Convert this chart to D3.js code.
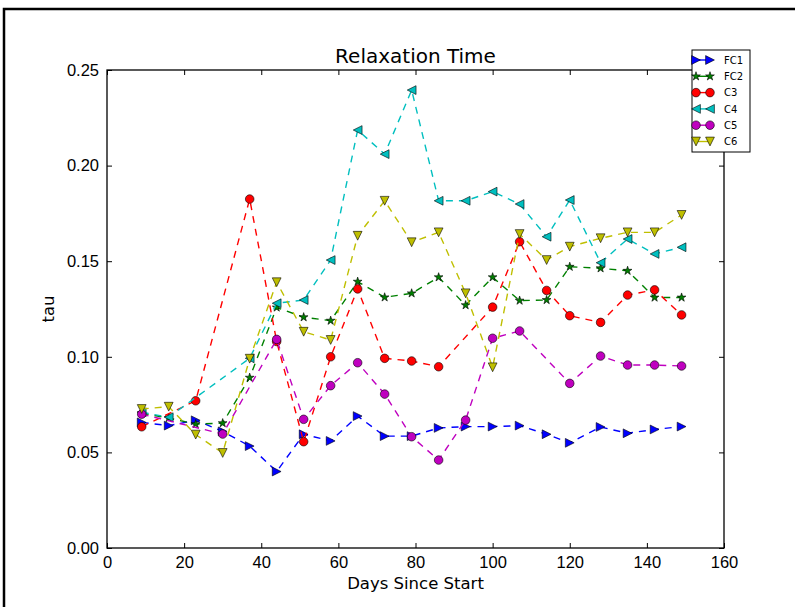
<!DOCTYPE html>
<html>
<head>
<meta charset="utf-8">
<script src="https://cdn.jsdelivr.net/npm/d3@7"></script>
<style>
  body { margin: 0; background: #fff; }
  svg { display: block; font-family: "DejaVu Sans", sans-serif; }
</style>
</head>
<body>
<script>
// days of each measurement
const days = [9, 16, 23, 30, 37, 44, 51, 58, 65, 72, 79, 86, 93, 100, 107, 114, 120, 128, 135, 142, 149];

// tau values per sample, null = no measurement that day
const fc1 = [0.0657, 0.064, 0.0668, 0.061, 0.0533, 0.040, 0.0595, 0.056, 0.069, 0.0585, 0.0585, 0.0628, 0.0635, 0.0635, 0.064, 0.0595, 0.055, 0.0633, 0.060, 0.062, 0.0635];
const fc2 = [0.0705, 0.068, 0.0648, 0.0653, 0.0891, 0.1258, 0.1207, 0.1189, 0.1393, 0.1311, 0.1332, 0.1416, 0.127, 0.1416, 0.1294, 0.1297, 0.1471, 0.1463, 0.145, 0.131, 0.131];
const c3 = [0.0634, null, 0.077, null, 0.1825, 0.108, 0.0556, 0.100, 0.1355, 0.0992, 0.0978, 0.0948, null, 0.126, 0.1602, 0.1347, 0.1215, 0.118, 0.1323, 0.135, 0.1219];
const c4 = [0.071, 0.0684, null, null, 0.0992, 0.128, 0.1297, 0.1506, 0.2186, 0.206, 0.2395, 0.1816, 0.1816, 0.1864, 0.1799, 0.1628, 0.182, 0.1492, 0.1616, 0.1538, 0.1573];
const c5 = [0.070, null, null, 0.0596, null, 0.1091, 0.0673, 0.0849, 0.0969, 0.0805, 0.0582, 0.046, 0.0669, 0.1097, 0.1135, null, 0.0861, 0.1004, 0.0957, 0.0957, 0.0952];
const c6 = [0.0727, 0.0739, 0.0593, 0.0497, 0.099, 0.139, 0.1131, 0.1088, 0.1633, 0.1816, 0.1599, 0.1651, 0.1332, 0.0945, 0.1642, 0.1506, 0.1576, 0.162, 0.1651, 0.1651, 0.1742];

const seriesNames = ["FC1", "FC2", "C3", "C4", "C5", "C6"];
const seriesValues = [fc1, fc2, c3, c4, c5, c6];
const seriesColors = ["#0000ff", "#008000", "#ff0000", "#00bfbf", "#bf00bf", "#bfbf00"];
const seriesMarkers = ["right", "star", "circle", "left", "circle", "down"];

const xTicks = [0, 20, 40, 60, 80, 100, 120, 140, 160];
const yTicks = [0, 0.05, 0.1, 0.15, 0.2, 0.25];

const width = 795;
const height = 607;
const margin = { top: 70, right: 71, bottom: 59, left: 107 };
const plotW = width - margin.left - margin.right;
const plotH = height - margin.top - margin.bottom;

const svg = d3.select("body").append("svg").attr("width", width).attr("height", height);

// outer frame of the screenshot
svg.append("rect")
  .attr("x", 4).attr("y", 9)
  .attr("width", 820).attr("height", 640)
  .attr("fill", "none")
  .attr("stroke", "#000")
  .attr("stroke-width", 2.5);

const x = d3.scaleLinear().domain([0, 160]).range([0, plotW]);
const y = d3.scaleLinear().domain([0, 0.25]).range([plotH, 0]);

const g = svg.append("g").attr("transform", `translate(${margin.left},${margin.top})`);

// marker shapes (matplotlib-like)
function markerPath(kind, r) {
  if (kind === "right") return `M${r},0L${-r},${r}L${-r},${-r}Z`;
  if (kind === "left") return `M${-r},0L${r},${-r}L${r},${r}Z`;
  if (kind === "down") return `M0,${r}L${-r},${-r}L${r},${-r}Z`;
  if (kind === "star") {
    const pts = [];
    for (let i = 0; i < 10; i++) {
      const rad = i % 2 === 0 ? r : r * 0.381966;
      const a = (i * Math.PI) / 5 - Math.PI / 2;
      pts.push([rad * Math.cos(a), rad * Math.sin(a)]);
    }
    return "M" + pts.map((p) => p.join(",")).join("L") + "Z";
  }
  return d3.symbol(d3.symbolCircle, Math.PI * r * r)();
}
const markerSize = { right: 4.4, left: 4.4, down: 4.4, star: 4.6, circle: 4.3 };

// series: dashed line then markers
const line = d3.line().x((d) => x(d[0])).y((d) => y(d[1]));

seriesValues.forEach((vals, i) => {
  const pts = days.map((d, j) => [d, vals[j]]).filter((p) => p[1] !== null);
  const sg = g.append("g").attr("class", "series");
  sg.append("path")
    .attr("d", line(pts))
    .attr("fill", "none")
    .attr("stroke", seriesColors[i])
    .attr("stroke-width", 1.4)
    .attr("stroke-dasharray", "7,6");
  sg.selectAll("path.mark")
    .data(pts)
    .enter()
    .append("path")
    .attr("class", "mark")
    .attr("transform", (d) => `translate(${x(d[0])},${y(d[1])})`)
    .attr("d", markerPath(seriesMarkers[i], markerSize[seriesMarkers[i]]))
    .attr("fill", seriesColors[i])
    .attr("stroke", "#000")
    .attr("stroke-width", 0.6);
});

// axes with inward ticks on all four sides
const fontSize = "16.5px";
const xAxis = g.append("g").attr("transform", `translate(0,${plotH})`)
  .call(d3.axisBottom(x).tickValues(xTicks).tickSize(-5).tickPadding(8).tickFormat(d3.format("d")));
const yAxis = g.append("g")
  .call(d3.axisLeft(y).tickValues(yTicks).tickSize(-5).tickPadding(8).tickFormat(d3.format(".2f")));
g.append("g").call(d3.axisTop(x).tickValues(xTicks).tickSize(-5).tickFormat(""));
g.append("g").attr("transform", `translate(${plotW},0)`)
  .call(d3.axisRight(y).tickValues(yTicks).tickSize(-5).tickFormat(""));

g.selectAll(".domain").remove();
g.selectAll(".tick line").attr("stroke", "#000").attr("stroke-width", 1);
xAxis.selectAll("text").style("font-size", fontSize).attr("fill", "#000");
yAxis.selectAll("text").style("font-size", fontSize).attr("fill", "#000");

g.append("rect")
  .attr("width", plotW).attr("height", plotH)
  .attr("fill", "none")
  .attr("stroke", "#000")
  .attr("stroke-width", 1.3);

// title and axis labels
svg.append("text")
  .attr("x", margin.left + plotW / 2).attr("y", 63)
  .attr("text-anchor", "middle")
  .style("font-size", "20px")
  .text("Relaxation Time");

svg.append("text")
  .attr("x", margin.left + plotW / 2).attr("y", 589)
  .attr("text-anchor", "middle")
  .style("font-size", fontSize)
  .text("Days Since Start");

svg.append("text")
  .attr("transform", `translate(54,${margin.top + plotH / 2}) rotate(-90)`)
  .attr("text-anchor", "middle")
  .style("font-size", fontSize)
  .text("tau");

// legend box in the top-right corner
const legend = svg.append("g").attr("transform", "translate(692,50)");
legend.append("rect")
  .attr("width", 58).attr("height", 102)
  .attr("fill", "#fff")
  .attr("stroke", "#000")
  .attr("stroke-width", 1);

const rows = legend.selectAll("g.row")
  .data(seriesNames)
  .enter()
  .append("g")
  .attr("class", "row")
  .attr("transform", (d, i) => `translate(0,${10 + i * 16.3})`);

rows.append("line")
  .attr("x1", 4).attr("x2", 18)
  .attr("stroke", (d, i) => seriesColors[i])
  .attr("stroke-width", 1.4);

[4, 18].forEach((mx) => {
  rows.append("path")
    .attr("transform", `translate(${mx},0)`)
    .attr("d", (d, i) => markerPath(seriesMarkers[i], markerSize[seriesMarkers[i]]))
    .attr("fill", (d, i) => seriesColors[i])
    .attr("stroke", "#000")
    .attr("stroke-width", 0.6);
});

rows.append("text")
  .attr("x", 32).attr("y", 3.6)
  .style("font-size", "10px")
  .text((d) => d);
</script>
</body>
</html>
